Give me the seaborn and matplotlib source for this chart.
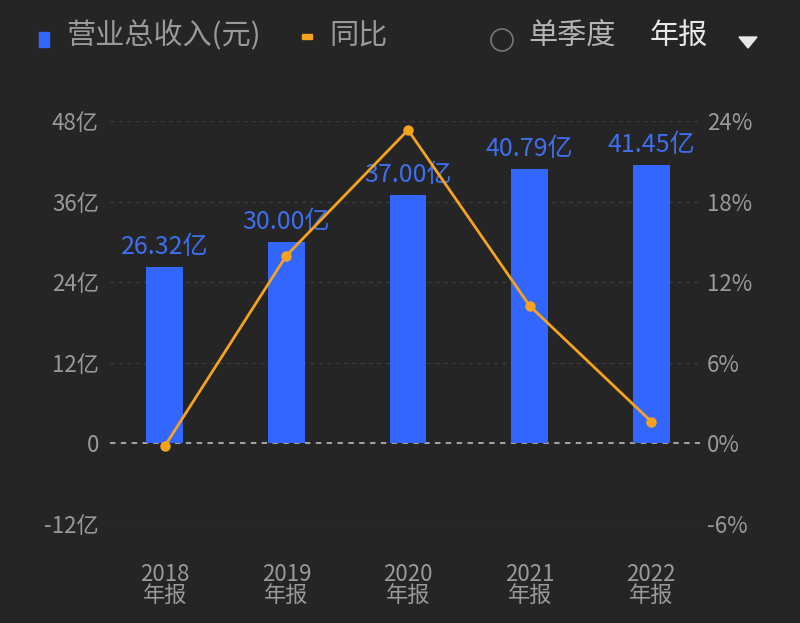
import numpy as np
import pandas as pd
import seaborn as sns
import matplotlib.pyplot as plt
from matplotlib.patches import FancyBboxPatch, Circle, Polygon

# data
years = ['2018', '2019', '2020', '2021', '2022']
revenue = [26.32, 30.00, 37.00, 40.79, 41.45]   # 亿元
yoy = [-0.2, 13.98, 23.33, 10.24, 1.62]          # %
left_ticks = [-12, 0, 12, 24, 36, 48]
right_ticks = [-6, 0, 6, 12, 18, 24]

BG = '#252526'
BLUE = '#3366ff'
LABEL_BLUE = '#3f6fee'
ORANGE = '#f5a21f'
GREY = '#9a9a9a'

sns.set_style('dark')
plt.rcParams['font.family'] = ['Noto Sans CJK SC', 'DejaVu Sans']

df = pd.DataFrame({'year': years, 'revenue': revenue, 'yoy': yoy})

fig = plt.figure(figsize=(8, 6.23), dpi=100, facecolor=BG)
ax = fig.add_axes([110/800, 99/623, 590/800, 403/623])
ax.set_facecolor(BG)

sns.barplot(data=df, x='year', y='revenue', color=BLUE, width=0.3,
            saturation=1, linewidth=0, edgecolor='none', ax=ax, zorder=2)
ax.bar_label(ax.containers[0], labels=[f'{v:.2f}亿' for v in revenue],
             padding=5, color=LABEL_BLUE, fontsize=18)

ax.set_ylim(-12, 48)
ax.set_xlim(-0.45, 4.4)
ax.set_yticks(left_ticks)
ax.set_yticklabels(['0' if t == 0 else f'{t}亿' for t in left_ticks])
ax.set_xticks(range(len(years)))
ax.set_xticklabels([f'{y}\n年报' for y in years], linespacing=0.9)
for t in left_ticks:
    if t == 0:
        ax.axhline(t, color='#b0b0b0', lw=1.3, ls=(0, (3, 3)), zorder=1)
    else:
        ax.axhline(t, color='#3c3c3c', lw=1, ls=(0, (3, 3)), zorder=1)
ax.grid(False)
ax.set_xlabel('')
ax.set_ylabel('')
ax.tick_params(axis='y', colors=GREY, labelsize=16, length=0, pad=8)
ax.tick_params(axis='x', colors=GREY, labelsize=16, length=0, pad=28)
for s in ax.spines.values():
    s.set_visible(False)

ax2 = ax.twinx()
sns.pointplot(data=df, x='year', y='yoy', color=ORANGE, ax=ax2,
              markersize=6, linewidth=2)
ax2.set_ylim(-6, 24)
ax2.set_yticks(right_ticks)
ax2.set_yticklabels([f'{t}%' for t in right_ticks])
ax2.set_ylabel('')
ax2.set_xlim(-0.45, 4.4)
ax2.grid(False)
ax2.tick_params(axis='y', colors=GREY, labelsize=16, length=0, pad=5)
for s in ax2.spines.values():
    s.set_visible(False)

# header / legend
fig.add_artist(FancyBboxPatch((39/800, (623-47)/623), 10/800, 15/623,
                              boxstyle='square,pad=0',
                              transform=fig.transFigure, color=BLUE))
fig.text(66/800, (623-36)/623, '营业总收入(元)', color=GREY, fontsize=21, va='center')
fig.add_artist(FancyBboxPatch((302/800, (623-39)/623), 10/800, 5/623,
                              boxstyle='square,pad=0',
                              transform=fig.transFigure, color=ORANGE))
fig.text(329/800, (623-36)/623, '同比', color=GREY, fontsize=21, va='center')
fig.add_artist(Circle((502, 623-40), 11, transform=None, fill=False,
                      ec='#777777', lw=1.2))
fig.text(528/800, (623-36)/623, '单季度', color='#b5b5b5', fontsize=21, va='center')
fig.text(650/800, (623-36)/623, '年报', color='#e8e8e8', fontsize=21, va='center')
fig.add_artist(Polygon([[739/800, (623-37)/623], [757/800, (623-37)/623],
                        [748/800, (623-48)/623]], closed=True,
                       transform=fig.transFigure, color='#e8e8e8'))

fig.savefig('out.png', dpi=100, facecolor=BG)
